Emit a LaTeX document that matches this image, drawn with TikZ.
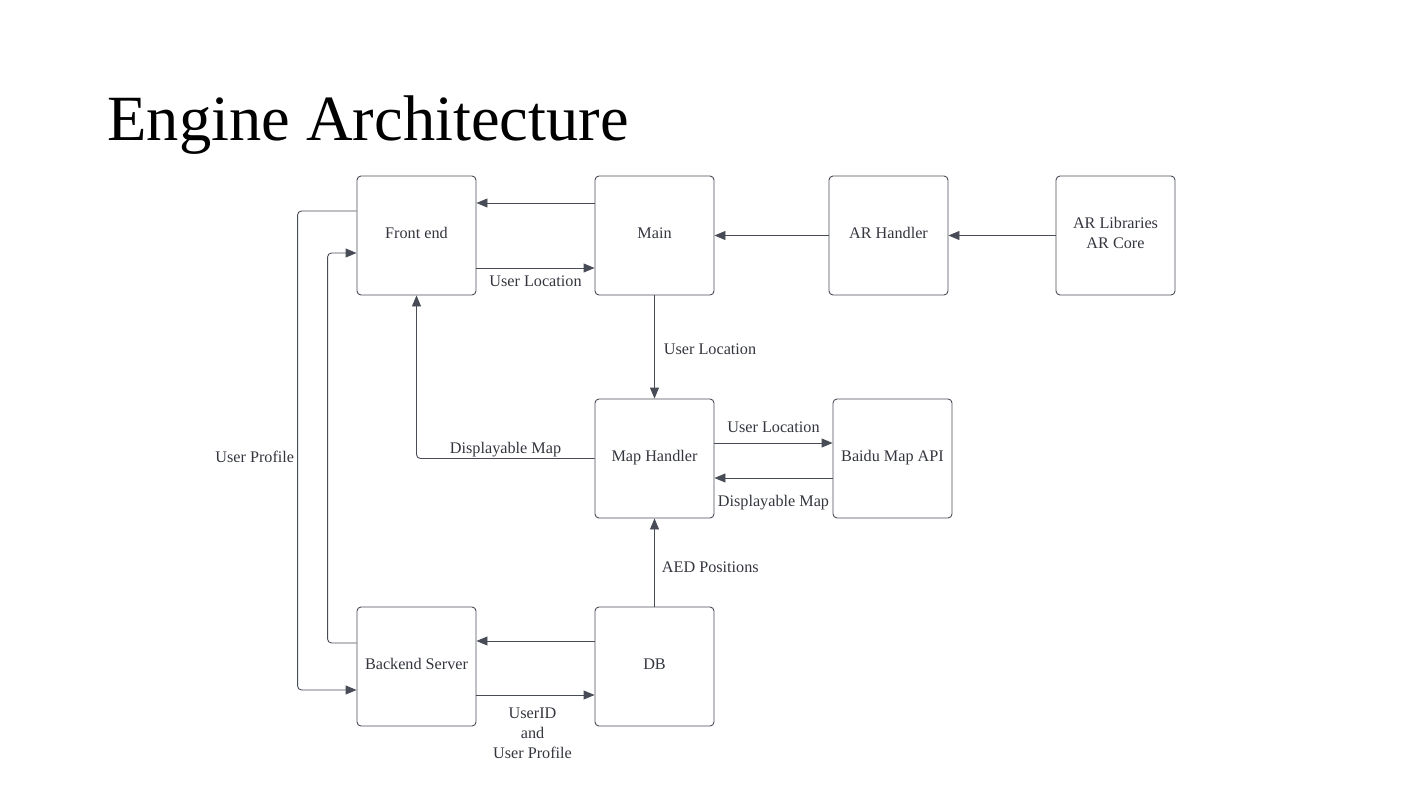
\documentclass[tikz,border=0pt]{standalone}
\usepackage{fontspec}
\setmainfont{Liberation Serif}
\usetikzlibrary{arrows.meta}
\definecolor{linegray}{RGB}{72,76,86}
\definecolor{textgray}{RGB}{52,54,62}
\tikzstyle{block}=[draw=linegray, line width=0.9pt, rounded corners=4pt, minimum width=119pt, minimum height=119pt, align=center, text=textgray, font=\fontsize{16.2}{20}\selectfont, text height=10pt, text depth=4.5pt]
\tikzstyle{flow}=[draw=linegray, line width=0.9pt, rounded corners=4pt, -{Triangle[length=11pt,width=9pt]}]
\tikzstyle{tag}=[text=textgray, font=\fontsize{16.2}{20}\selectfont, align=center, inner sep=3pt]

\begin{document}
\begin{tikzpicture}[x=1pt, y=-1pt]
    \useasboundingbox (0,0) rectangle (1405,789);
    \node[anchor=base west, font=\fontsize{64.5}{70}\selectfont] (title) at (104,140) {Engine Architecture};

    \node[block] (frontend) at (416.5,235.5) {Front end};
    \node[block] (main) at (654.5,235.5) {Main};
    \node[block] (arhandler) at (888.5,235.5) {AR Handler};
    \node[block, text height=, text depth=6pt] (arlib) at (1115.5,235.5) {AR Libraries\\AR Core};
    \node[block] (maphandler) at (654.5,458.5) {Map Handler};
    \node[block] (baidu) at (892.5,458.5) {Baidu Map API};
    \node[block] (backend) at (416.5,666.5) {Backend Server};
    \node[block] (db) at (654.5,666.5) {DB};

    \draw[flow] ([yshift=32.5pt]main.west) -- ([yshift=32.5pt]frontend.east);
    \draw[flow] ([yshift=-32.5pt]frontend.east)
      to node[tag, below=4.5pt] {User Location} ([yshift=-32.5pt]main.west);
    \draw[flow] (arhandler.west) -- (main.east);
    \draw[flow] (arlib.west) -- (arhandler.east);
    \draw[flow] (main.south)
      to node[tag, right=6pt, pos=0.52] {User Location} (maphandler.north);
    \draw[flow] (maphandler.west)
      -- node[tag, above, inner sep=1pt] {Displayable Map} (frontend.south |- maphandler.west)
      -- (frontend.south);
    \draw[flow] ([yshift=15.5pt]maphandler.east)
      to node[tag, above=7pt] {User Location} ([yshift=15.5pt]baidu.west);
    \draw[flow] ([yshift=-19.5pt]baidu.west)
      to node[tag, below=14pt] {Displayable Map} ([yshift=-19.5pt]maphandler.east);
    \draw[flow] (db.north)
      to node[tag, right=4pt, pos=0.45] {AED Positions} (maphandler.south);
    \draw[flow] ([yshift=25.5pt]db.west) -- ([yshift=25.5pt]backend.east);
    \draw[flow] ([yshift=-28.5pt]backend.east)
      to node[tag, below=9pt, xshift=-3pt] {UserID\\and\\User Profile} ([yshift=-28.5pt]db.west);
    \draw[flow] ([yshift=24.5pt]frontend.west) -- ++(-59pt,0)
      |- node[tag, left, pos=0.257] {User Profile} ([yshift=-23.5pt]backend.west);
    \draw[flow] ([yshift=23.5pt]backend.west) -- ++(-29pt,0)
      |- ([yshift=-17.5pt]frontend.west);
\end{tikzpicture}
\end{document}
